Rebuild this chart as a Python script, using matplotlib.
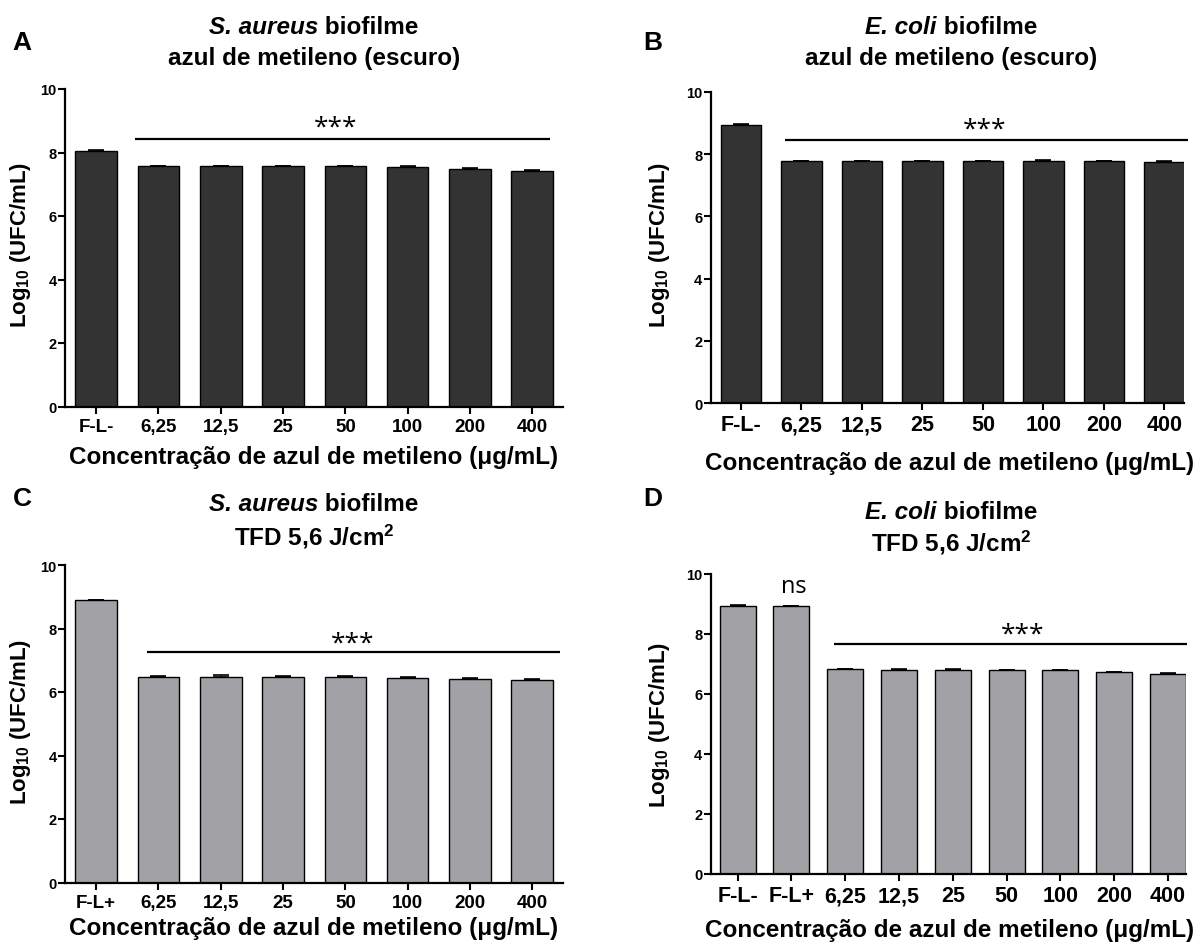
import matplotlib
matplotlib.use("Agg")
import matplotlib.pyplot as plt
from matplotlib.transforms import offset_copy
import numpy as np

plt.rcParams['font.family'] = ['Liberation Sans', 'DejaVu Sans']
plt.rcParams['font.weight'] = 'bold'
plt.rcParams['mathtext.fontset'] = 'custom'
plt.rcParams['mathtext.rm'] = 'Liberation Sans:bold'
plt.rcParams['mathtext.bf'] = 'Liberation Sans:bold'
plt.rcParams['mathtext.it'] = 'Liberation Sans:italic:bold'

# ---------------- data ----------------
cats_a = ["F-L-", "6,25", "12,5", "25", "50", "100", "200", "400"]
vals_a = [8.05, 7.57, 7.57, 7.57, 7.56, 7.55, 7.48, 7.41]
err_a = [0.03, 0.02, 0.02, 0.02, 0.02, 0.03, 0.02, 0.03]

cats_b = ["F-L-", "6,25", "12,5", "25", "50", "100", "200", "400"]
vals_b = [8.93, 7.77, 7.77, 7.77, 7.77, 7.78, 7.76, 7.74]
err_b = [0.02, 0.02, 0.02, 0.02, 0.02, 0.02, 0.02, 0.02]

cats_c = ["F-L+", "6,25", "12,5", "25", "50", "100", "200", "400"]
vals_c = [8.90, 6.48, 6.46, 6.47, 6.46, 6.45, 6.41, 6.39]
err_c = [0.01, 0.02, 0.07, 0.02, 0.03, 0.02, 0.02, 0.02]

cats_d = ["F-L-", "F-L+", "6,25", "12,5", "25", "50", "100", "200", "400"]
vals_d = [8.95, 8.94, 6.82, 6.81, 6.81, 6.80, 6.80, 6.73, 6.68]
err_d = [0.01, 0.01, 0.01, 0.01, 0.01, 0.01, 0.01, 0.01, 0.01]

yticks = [0, 2, 4, 6, 8, 10]

W, H = 1203, 945
fig = plt.figure(figsize=(W / 100, H / 100), dpi=100)

DARK = "#333333"
GRAY = "#a2a1a6"


def add_axes_px(left, right, top, bottom):
    return fig.add_axes([left / W, 1 - bottom / H, (right - left) / W, (bottom - top) / H])


def draw_panel(ax, cats, vals, errs, color, xmax, tsize):
    x = np.arange(len(cats))
    ax.bar(x, vals, width=0.667, color=color, edgecolor="black", linewidth=1.0, zorder=2)
    ax.errorbar(x, vals, yerr=[np.zeros(len(vals)), errs], fmt="none", ecolor="black",
                elinewidth=1.0, capsize=6, capthick=1.2, zorder=3)
    ax.set_xlim(-0.5, xmax)
    ax.set_ylim(0, 10)
    ax.set_yticks(yticks)
    ax.set_yticklabels([str(v) for v in yticks], fontsize=10.5, fontweight="bold")
    ax.set_xticks(x)
    ax.set_xticklabels(cats, fontsize=tsize, fontweight="bold")
    for s in ["top", "right"]:
        ax.spines[s].set_visible(False)
    for s in ["left", "bottom"]:
        ax.spines[s].set_linewidth(1.6)
    ax.tick_params(axis="y", length=5, width=1.5, pad=1)
    ax.tick_params(axis="x", length=5, width=1.5, pad=3)


def sig(ax, x0, x1, y, xs, ys):
    ax.plot([x0, x1], [y, y], color="black", lw=1.6, clip_on=False, solid_capstyle="butt")
    tr = offset_copy(ax.transData, fig=fig, x=0, y=-15, units="dots")
    ax.text(xs, ys, "***", transform=tr, ha="center", va="baseline", fontsize=19,
            family=["Open Sans", "DejaVu Sans"], fontweight="normal", clip_on=False)


renderer = fig.canvas.get_renderer()


def title_line(cx, y, italic, rest, size):
    t1 = fig.text(0, 0, italic, style="italic", fontweight="bold", fontsize=size, va="center")
    t2 = fig.text(0, 0, rest, fontweight="bold", fontsize=size, va="center")
    w1 = t1.get_window_extent(renderer).width
    w2 = t2.get_window_extent(renderer).width
    x0 = cx - (w1 + w2) / 2
    t1.set_position((x0 / W, 1 - y / H))
    t2.set_position(((x0 + w1) / W, 1 - y / H))


def ftext(x, y, s, **kw):
    fig.text(x / W, 1 - y / H, s, **kw)


XLAB = "Concentração de azul de metileno (μg/mL)"
YLAB = r"Log$_{\mathbf{10}}$ (UFC/mL)"
TS = 17.5
YS = 16

# ---- Panel A ----
axA = add_axes_px(65, 563.4, 90, 407.5)
draw_panel(axA, cats_a, vals_a, err_a, DARK, 7.5, 13.5)
sig(axA, 0.62, 7.28, 8.44, 3.85, 9.06)
title_line(314, 28, "S. aureus", " biofilme", TS)
ftext(314, 58, "azul de metileno (escuro)", ha="center", va="center", fontsize=TS)
ftext(22, 43, "A", ha="center", va="center", fontsize=19)
ftext(21, 245, YLAB, ha="center", va="center", rotation=90, fontsize=YS)
ftext(314, 458, XLAB, ha="center", va="center", fontsize=TS)

# ---- Panel B ----
axB = add_axes_px(710.7, 1184.4, 92.7, 404.3)
draw_panel(axB, cats_b, vals_b, err_b, DARK, 7.33, 15.5)
sig(axB, 0.73, 7.39, 8.45, 4.02, 9.07)
title_line(951, 28, "E. coli", " biofilme", TS)
ftext(951, 58, "azul de metileno (escuro)", ha="center", va="center", fontsize=TS)
ftext(653, 43, "B", ha="center", va="center", fontsize=19)
ftext(660, 245, YLAB, ha="center", va="center", rotation=90, fontsize=YS)
ftext(950, 464, XLAB, ha="center", va="center", fontsize=TS)

# ---- Panel C ----
axC = add_axes_px(65, 563.4, 566, 883.5)
draw_panel(axC, cats_c, vals_c, err_c, GRAY, 7.5, 13.5)
sig(axC, 0.81, 7.45, 7.25, 4.12, 7.80)
title_line(314, 505, "S. aureus", " biofilme", TS)
ftext(314, 537, r"TFD 5,6 J/cm$^{\mathbf{2}}$", ha="center", va="center", fontsize=TS)
ftext(22, 499, "C", ha="center", va="center", fontsize=19)
ftext(21, 722, YLAB, ha="center", va="center", rotation=90, fontsize=YS)
ftext(314, 929, XLAB, ha="center", va="center", fontsize=TS)

# ---- Panel D ----
axD = add_axes_px(710.7, 1185.7, 575, 875)
draw_panel(axD, cats_d, vals_d, err_d, GRAY, 8.33, 15.5)
sig(axD, 1.79, 8.36, 7.67, 5.29, 8.28)
trn = offset_copy(axD.transData, fig=fig, x=0, y=-6, units="dots")
axD.text(1.04, 9.61, "ns", transform=trn, ha="center", va="baseline", fontsize=17,
         family=["Open Sans", "DejaVu Sans"], fontweight="normal", clip_on=False)
title_line(951, 513, "E. coli", " biofilme", TS)
ftext(951, 543, r"TFD 5,6 J/cm$^{\mathbf{2}}$", ha="center", va="center", fontsize=TS)
ftext(653, 499, "D", ha="center", va="center", fontsize=19)
ftext(660, 725, YLAB, ha="center", va="center", rotation=90, fontsize=YS)
ftext(950, 931, XLAB, ha="center", va="center", fontsize=TS)

fig.savefig("out.png", dpi=100)
